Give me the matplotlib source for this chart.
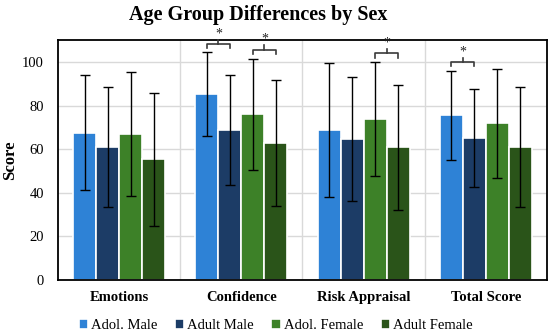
import matplotlib
matplotlib.use("Agg")
import matplotlib.pyplot as plt
import numpy as np

plt.rcParams["font.family"] = ["Liberation Serif", "DejaVu Serif"]

categories = ["Emotions", "Confidence", "Risk Appraisal", "Total Score"]
groups = ["Adol. Male", "Adult Male", "Adol. Female", "Adult Female"]
colors = ["#2E82D6", "#1C3C66", "#3D8128", "#2A5419"]

# mean score per group, one list per category order
adol_male = [67.6, 85.3, 68.8, 75.5]
adult_male = [61.0, 68.8, 64.7, 65.1]
adol_female = [67.0, 76.1, 73.9, 72.0]
adult_female = [55.5, 62.8, 61.0, 61.0]

# standard deviations (error bars)
adol_male_sd = [26.4, 19.2, 30.8, 20.2]
adult_male_sd = [27.5, 25.2, 28.4, 22.5]
adol_female_sd = [28.5, 25.5, 26.3, 25.0]
adult_female_sd = [30.5, 29.0, 28.7, 27.5]

# significant pairs: (category index, bar a, bar b, bracket level)
sig_pairs = [
    (1, 0, 1, 108.3),
    (1, 2, 3, 105.7),
    (2, 2, 3, 104.0),
    (3, 0, 1, 100.1),
]

means = [adol_male, adult_male, adol_female, adult_female]
sds = [adol_male_sd, adult_male_sd, adol_female_sd, adult_female_sd]

fig = plt.figure(figsize=(5.52, 3.33), dpi=100)
ax = fig.add_axes([0.105, 0.159, 0.886, 0.72])

x = np.arange(len(categories))
step = 0.188
offsets = (np.arange(len(groups)) - 1.5) * step

for i, (name, vals, err, col) in enumerate(zip(groups, means, sds, colors)):
    ax.bar(x + offsets[i], vals, width=step, color=col, edgecolor="white",
           linewidth=1.2, label=name, zorder=2)
    ax.errorbar(x + offsets[i], vals, yerr=err, fmt="none", ecolor="black",
                elinewidth=1.0, capsize=3.5, capthick=1.0, zorder=3)


def bracket(ax, x0, x1, y, drop=1.9, rise=2.0):
    xm = (x0 + x1) / 2
    kw = dict(color="#3a3a3a", lw=1.2, clip_on=False, zorder=4)
    ax.plot([x0, x0, x1, x1], [y - drop, y, y, y - drop], **kw)
    ax.plot([xm, xm], [y, y + rise], **kw)
    ax.text(xm, y + rise - 0.3, "*", ha="center", va="bottom", fontsize=10,
            color="#222222", clip_on=False)


for cat, a, b, lvl in sig_pairs:
    bracket(ax, x[cat] + offsets[a], x[cat] + offsets[b], lvl)

ax.set_xlim(-0.5, len(categories) - 0.5)
ax.set_ylim(0, 110)
ax.set_yticks(np.arange(0, 101, 20))
ax.set_xticks(x)
ax.set_xticklabels(categories, fontweight="bold", fontsize=10.5)
ax.tick_params(axis="y", labelsize=10.5, length=0, pad=10)
ax.tick_params(axis="x", length=0, pad=8)

ax.set_xticks(np.arange(0.5, len(categories) - 0.5), minor=True)
ax.grid(axis="y", color="#d9d9d9", lw=1.0, zorder=0)
ax.grid(axis="x", which="minor", color="#d9d9d9", lw=1.0, zorder=0)
ax.tick_params(axis="x", which="minor", length=0)

for sp in ax.spines.values():
    sp.set_linewidth(1.3)
    sp.set_color("black")

ax.set_ylabel("Score", fontweight="bold", fontsize=12, labelpad=3)
fig.suptitle("Age Group Differences by Sex", fontweight="bold", fontsize=14.5,
             x=0.467, y=0.985)

ax.legend(loc="center", bbox_to_anchor=(0.445, -0.19), ncol=4,
          frameon=False, fontsize=10.5, handlelength=0.65, handleheight=0.65,
          handletextpad=0.2, columnspacing=1.2, borderaxespad=0)

fig.savefig("out.png", dpi=100)
